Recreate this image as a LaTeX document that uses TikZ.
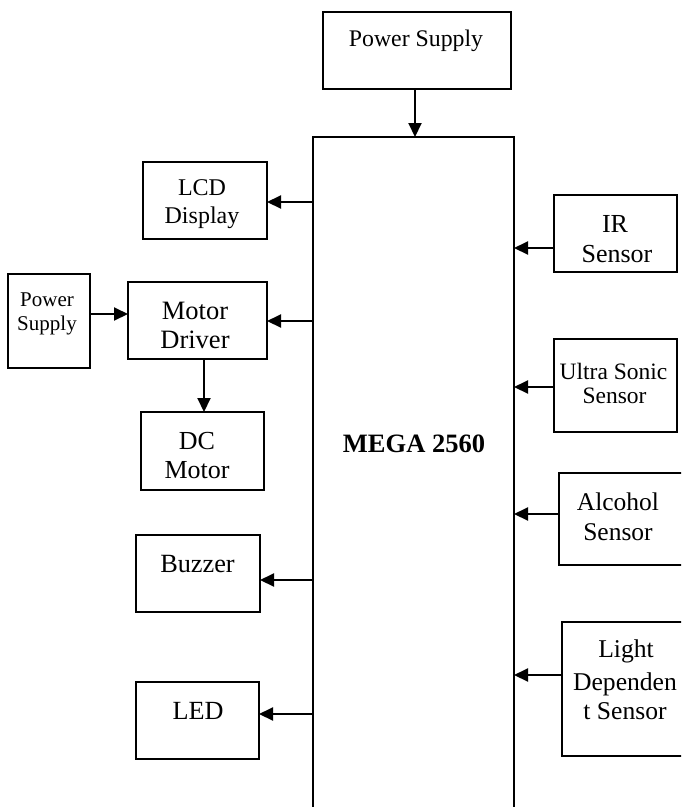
\documentclass[tikz,border=0pt]{standalone}
\usepackage{fontspec}
\setmainfont{Liberation Serif}
\usetikzlibrary{arrows.meta}
\newcommand\fsz[1]{\fontsize{#1}{#1}\selectfont}
\begin{document}
\begin{tikzpicture}[x=1pt,y=-1pt,
  blk/.style={draw,line width=2pt,fill=white,inner sep=0pt,outer sep=0pt},
  arr/.style={line width=2pt,-{Triangle[length=14pt,width=13pt]}},
  txt/.style={anchor=base,inner sep=0pt,outer sep=0pt}]
\useasboundingbox (0,0) rectangle (681,807);
\clip (0,0) rectangle (681,807);
% boxes
\node[blk,minimum width=188pt,minimum height=77pt] (ps1) at (417,50.5) {};
\node[blk,minimum width=201pt,minimum height=720pt,anchor=north] (mega) at (413.5,137) {};
\node[blk,minimum width=124pt,minimum height=77pt] (lcd) at (205,200.5) {};
\node[blk,minimum width=82pt,minimum height=94pt] (ps2) at (49,321) {};
\node[blk,minimum width=139pt,minimum height=77pt] (md) at (197.5,320.5) {};
\node[blk,minimum width=123pt,minimum height=78pt] (dc) at (202.5,451) {};
\node[blk,minimum width=124pt,minimum height=77pt] (buz) at (198,573.5) {};
\node[blk,minimum width=123pt,minimum height=77pt] (led) at (197.5,720.5) {};
\node[blk,minimum width=123pt,minimum height=77pt] (ir) at (615.5,233.5) {};
\node[blk,minimum width=123pt,minimum height=93pt] (us) at (615.5,385.5) {};
\node[blk,minimum width=141pt,minimum height=92pt] (alc) at (629.5,519) {};
\node[blk,minimum width=138pt,minimum height=134pt] (ldr) at (631,689) {};
% texts
\node[txt] (t1) at (416,46) {\fsz{23.8}Power Supply};
\node[txt] (t2) at (414,452) {\fsz{26.5}\bfseries MEGA 2560};
\node[txt] (t3) at (202,195) {\fsz{24}LCD};
\node[txt] (t4) at (202,223) {\fsz{24}Display};
\node[txt] (t5) at (47,306) {\fsz{21}Power};
\node[txt] (t6) at (47,330) {\fsz{21}Supply};
\node[txt] (t7) at (195,319) {\fsz{26.5}Motor};
\node[txt] (t8) at (195,348) {\fsz{26.5}Driver};
\node[txt] (t9) at (197,449) {\fsz{26}DC};
\node[txt] (t10) at (197,478) {\fsz{26}Motor};
\node[txt] (t11) at (197.5,572) {\fsz{26.3}Buzzer};
\node[txt] (t12) at (198,719) {\fsz{26.2}LED};
\node[txt] (t13) at (615,232) {\fsz{26}IR};
\node[txt] (t14) at (617,262) {\fsz{26}Sensor};
\node[txt] (t15) at (613.5,379) {\fsz{23.5}Ultra Sonic};
\node[txt] (t16) at (614.5,403) {\fsz{23.5}Sensor};
\node[txt] (t17) at (618,510) {\fsz{25.5}Alcohol};
\node[txt] (t18) at (618,540) {\fsz{25.5}Sensor};
\node[txt] (t19) at (626,657) {\fsz{25.6}Light};
\node[txt] (t20) at (625,690) {\fsz{25.6}Dependen};
\node[txt] (t21) at (625,719) {\fsz{25.6}t Sensor};
% connectors
\draw[arr] (ps1.south -| 415,0) -- (mega.north -| 415,0);
\draw[arr] (mega.west |- 0,202) -- (lcd.east |- 0,202);
\draw[arr] (ps2.east |- 0,314) -- (md.west |- 0,314);
\draw[arr] (mega.west |- 0,321) -- (md.east |- 0,321);
\draw[arr] (md.south -| 204,0) -- (dc.north -| 204,0);
\draw[arr] (mega.west |- 0,580) -- (buz.east |- 0,580);
\draw[arr] (mega.west |- 0,714) -- (led.east |- 0,714);
\draw[arr] (ir.west |- 0,248) -- (mega.east |- 0,248);
\draw[arr] (us.west |- 0,387) -- (mega.east |- 0,387);
\draw[arr] (alc.west |- 0,514) -- (mega.east |- 0,514);
\draw[arr] (ldr.west |- 0,675) -- (mega.east |- 0,675);
\end{tikzpicture}
\end{document}
